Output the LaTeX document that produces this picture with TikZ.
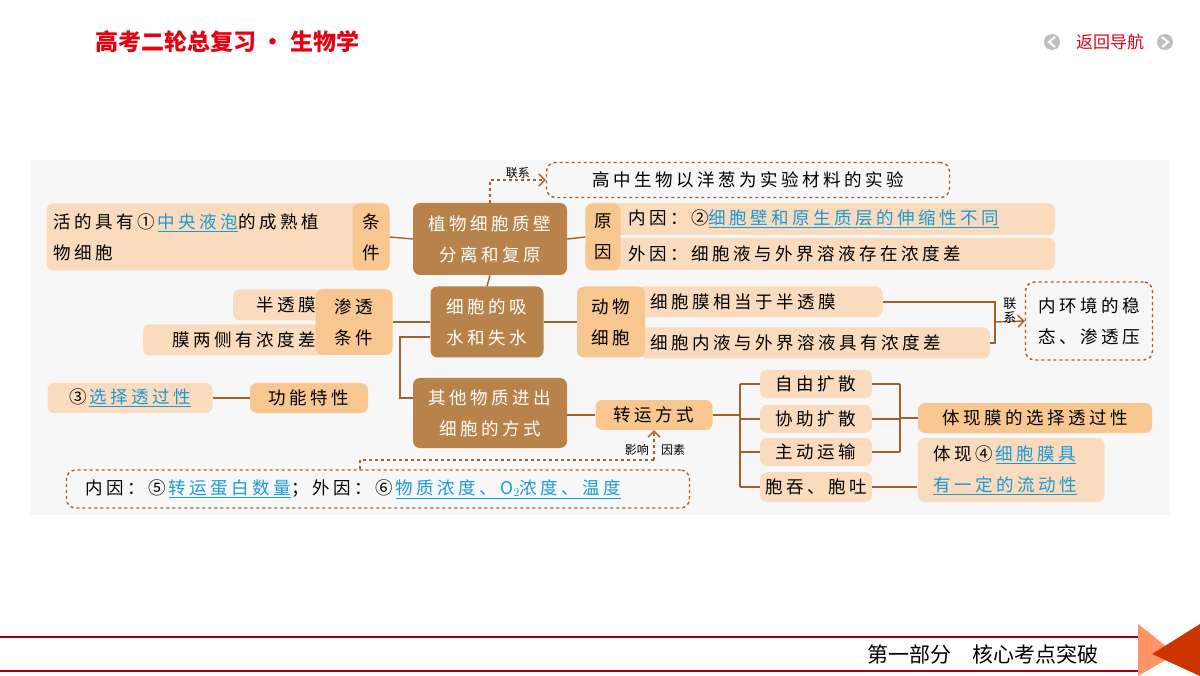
\documentclass[tikz,border=0pt]{standalone}
\usepackage{fontspec}
\setmainfont{Noto Sans CJK SC}[LetterSpace=20]
\newfontfamily\plainfont{Noto Sans CJK SC}
\usetikzlibrary{positioning,arrows.meta}
\definecolor{darkBrown}{HTML}{B8834A}
\definecolor{lightTan}{HTML}{FADBBD}
\definecolor{midTan}{HTML}{F8C68F}
\definecolor{lineBrown}{HTML}{A0622A}
\definecolor{keyBlue}{HTML}{1A9AD6}
\definecolor{titleRed}{HTML}{E60012}
\newcommand{\key}[1]{{\color{keyBlue}\underline{#1}}}
\tikzset{
    mainBox/.style  = {fill=darkBrown,text=white,rounded corners=7pt,align=center,inner sep=0pt},
    lightBox/.style = {fill=lightTan,rounded corners=7pt,inner sep=0pt},
    midBox/.style   = {fill=midTan,rounded corners=7pt,inner sep=0pt,align=center},
    dashBox/.style  = {draw=lineBrown,dashed,line width=1.4pt,rounded corners=9pt,inner sep=0pt,align=center},
    link/.style     = {draw=lineBrown,line width=1.4pt},
    txt/.style      = {anchor=west,inner sep=0pt},
    small/.style    = {font=\plainfont\fontsize{12}{14}\selectfont,inner sep=1pt}
}
\begin{document}
\begin{tikzpicture}[x=1pt,y=-1pt,font=\fontsize{17.5}{31}\selectfont]
  \useasboundingbox (0,0) rectangle (1200,676);
  \fill[white] (0,0) rectangle (1200,676);
  \fill[black!3] (30,160) rectangle (1170,515);

  % header and footer
  \node[text=titleRed,font=\plainfont\fontsize{23}{26}\selectfont\bfseries,anchor=west] (title) at (92,42) {高考二轮总复习 • 生物学};
  \node[text=titleRed,font=\plainfont\fontsize{17}{20}\selectfont] (nav) at (1110,42) {返回导航};
  \fill[black!25] (1052,42) circle (8pt);
  \fill[black!25] (1165,42) circle (8pt);
  \draw[white,line width=2pt] (1055,37) -- (1049,42) -- (1055,47);
  \draw[white,line width=2pt] (1162,37) -- (1168,42) -- (1162,47);
  \draw[titleRed!70!black,line width=1.5pt] (0,637) -- (1140,637) (0,671) -- (1140,671);
  \node[font=\plainfont\fontsize{21}{24}\selectfont] (part) at (983,654) {第一部分\quad 核心考点突破};
  \fill[orange!60!red!60] (1138,624) -- (1176,654) -- (1138,676) -- cycle;
  \fill[orange!50!red!80!black] (1200,624) -- (1152,654) -- (1200,676) -- cycle;

  % main nodes
  \node[mainBox,minimum width=154,minimum height=72] (plasmo) at (490,239) {植物细胞质壁\\分离和复原};
  \node[mainBox,minimum width=113,minimum height=71] (water) at (487,322) {细胞的吸\\水和失水};
  \node[mainBox,minimum width=154,minimum height=70] (other) at (490,413) {其他物质进出\\细胞的方式};
  \node[dashBox,minimum width=403,minimum height=35] (onion) at (748,180) {高中生物以洋葱为实验材料的实验};
  \draw[link,dashed,-{Straight Barb[length=6pt]}] (plasmo.north) |- node[pos=0.75,above,small] {联系} (onion.west);

  % conditions
  \node[lightBox,minimum width=343,minimum height=67] (condBg) at (218,237) {};
  \node[midBox,minimum width=37,minimum height=67] (cond) at (371,237) {条\\件};
  \node[txt,align=left] (condText) at (53,237) {活的具有①\,\key{中央液泡}的成熟植\\物细胞};
  \draw[link] (cond.east) -- (plasmo.west);

  % causes
  \node[lightBox,minimum width=470,minimum height=32] (inner) at (820,219) {};
  \node[lightBox,minimum width=470,minimum height=32] (outer) at (820,254) {};
  \node[midBox,minimum width=35,minimum height=67] (cause) at (603,237) {原\\因};
  \node[txt] (innerText) at (628,219) {内因：②\key{细胞壁和原生质层的伸缩性不同}};
  \node[txt] (outerText) at (628,254) {外因：细胞液与外界溶液存在浓度差};
  \draw[link] (plasmo.east) -- (cause.west);
  \draw[link] (plasmo.south) -- (water.north);

  % osmosis conditions
  \node[lightBox,minimum width=90,minimum height=31] (memb) at (278,305) {};
  \node[lightBox,minimum width=180,minimum height=31] (grad) at (233,340) {};
  \node[txt,anchor=east] (membText) at (316,305) {半透膜};
  \node[txt,anchor=east] (gradText) at (316,340) {膜两侧有浓度差};
  \node[midBox,minimum width=77,minimum height=66] (osmo) at (354,322) {渗透\\条件};
  \draw[link] (osmo.east) -- (water.west);

  % animal cells
  \node[lightBox,minimum width=245,minimum height=31] (animA) at (760,302) {};
  \node[lightBox,minimum width=350,minimum height=31] (animB) at (815,343) {};
  \node[midBox,minimum width=68,minimum height=71] (animal) at (611,322) {动物\\细胞};
  \node[txt] (animAText) at (650,302) {细胞膜相当于半透膜};
  \node[txt] (animBText) at (650,343) {细胞内液与外界溶液具有浓度差};
  \draw[link] (water.east) -- (animal.west);
  \node[dashBox,minimum width=127,minimum height=78] (homeo) at (1089,321) {内环境的稳\\态、渗透压};
  \coordinate (joinA) at (995,322);
  \draw[link] (animA.east) -| (joinA) |- (animB.east);
  \draw[link,-{Straight Barb[length=6pt]}] (joinA) -- node[above=-4pt,small,font=\plainfont\fontsize{13}{14}\selectfont,align=center] {联\\系} (homeo.west);

  % function
  \node[midBox,minimum width=118,minimum height=30] (func) at (309,398) {功能特性};
  \node[lightBox,minimum width=165,minimum height=30] (select) at (130,398) {③\,\key{选择透过性}};
  \coordinate (bend) at (400,337);
  \draw[link] (water.west |- bend) -- (bend) |- (func.east -| other.west);
  \draw[link] (select.east) -- (func.west);

  % transport
  \node[midBox,minimum width=117,minimum height=30] (trans) at (654,415) {转运方式};
  \draw[link] (other.east |- trans) -- (trans.west);
  \node[lightBox,minimum width=112,minimum height=28] (free) at (816,384) {自由扩散};
  \node[lightBox,minimum width=112,minimum height=28] (facil) at (816,419) {协助扩散};
  \node[lightBox,minimum width=112,minimum height=28] (active) at (816,452) {主动运输};
  \node[lightBox,minimum width=112,minimum height=30] (bulk) at (816,487) {胞吞、胞吐};
  \coordinate (fork) at (740,415);
  \draw[link] (trans.east) -- (fork);
  \draw[link] (fork |- free) -- (fork |- bulk);
  \foreach \n in {free,facil,active,bulk}
    \draw[link] (fork |- \n) -- (\n.west);
  \node[midBox,minimum width=234,minimum height=30] (showSel) at (1035,418) {体现膜的选择透过性};
  \node[lightBox,minimum width=187,minimum height=64,align=left] (showFlow) at (1011,470) {};
  \node[txt,align=left] (showFlowText) at (933,470) {体现④\,\key{细胞膜具}\\\key{有一定的流动性}};
  \coordinate (merge) at (900,418);
  \draw[link] (merge |- free) -- (merge |- active);
  \foreach \n in {free,facil,active}
    \draw[link] (\n.east) -- (merge |- \n);
  \draw[link] (merge) -- (showSel.west);
  \draw[link] (bulk.east) -- (bulk.east -| showFlow.west);

  % influencing factors
  \node[dashBox,minimum width=623,minimum height=38] (factor) at (378,489) {};
  \node[txt] (factorText) at (85,489) {内因：⑤\,\key{转运蛋白数量}；外因：⑥\,\key{物质浓度、O$_2$浓度、温度}};
  \coordinate (up) at (360,460);
  \draw[link,dashed] (factor.north -| up) -- (up) -- (up -| trans);
  \draw[link,dashed,-{Straight Barb[length=6pt]}] (up -| trans) -- (trans.south);
  \node[small,anchor=east] (effect) at (650,450) {影响};
  \node[small,anchor=west] (cause2) at (660,450) {因素};
\end{tikzpicture}
\end{document}
